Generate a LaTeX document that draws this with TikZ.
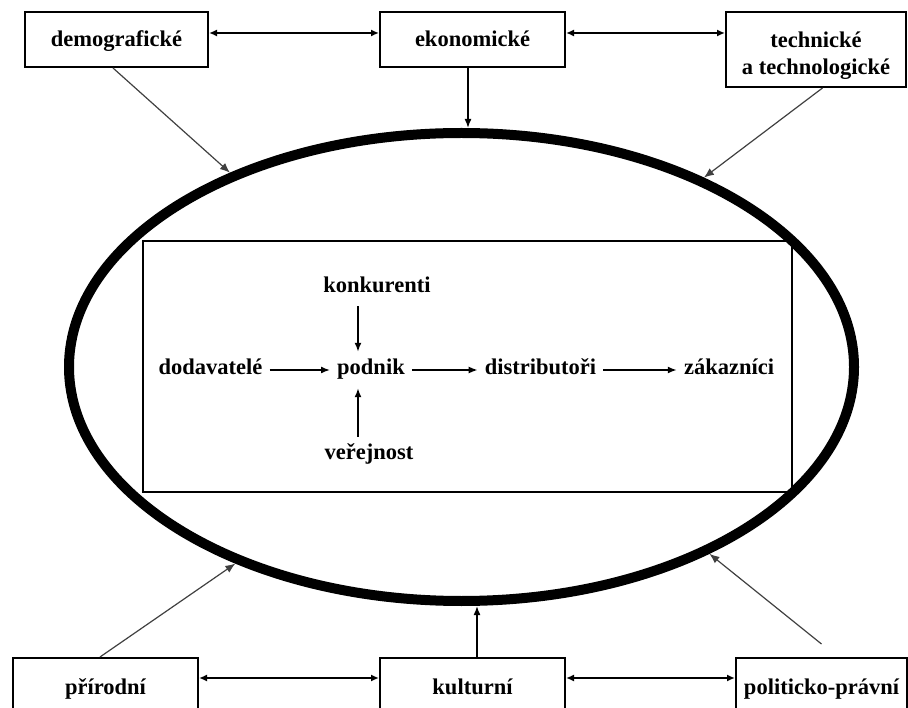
\documentclass[tikz,border=0pt]{standalone}
\usepackage{fontspec}
\setmainfont{Liberation Serif}
\usetikzlibrary{arrows.meta,shapes.geometric}
\begin{document}
\begin{tikzpicture}[x=1pt,y=-1pt,
  lbl/.style={font=\fontsize{22.5}{27}\selectfont\bfseries},
  envbox/.style={draw,line width=2pt,lbl,inner sep=0pt,align=center},
  topbox/.style={envbox,text height=21pt,text depth=6pt},
  lowbox/.style={envbox,minimum height=60pt,text height=18pt,text depth=6pt},
  word/.style={lbl,inner xsep=7pt,inner ysep=8pt,text height=15pt,text depth=5pt,anchor=base},
  arr/.style={line width=1.6pt,-{Latex[length=9pt,width=7pt]}},
  darr/.style={line width=1.6pt,{Latex[length=8pt,width=7pt]}-{Latex[length=8pt,width=7pt]}},
  infl/.style={line width=1.2pt,draw=black!75,-{Latex[length=10pt,width=8pt]}}]
\useasboundingbox (0,0) rectangle (908,708);
\clip (0,0) rectangle (908,708);

% the enterprise's environment
\node[draw,ellipse,line width=10pt,minimum width=785pt,minimum height=468pt,inner sep=0pt] (ell) at (461.5,367) {};
\node[draw,line width=2pt,minimum width=649pt,minimum height=251pt,inner sep=0pt] (scene) at (467.5,366.5) {};

% macro-environment factors
\node[topbox,minimum width=183pt,minimum height=55pt] (demo) at (116.5,39.5) {demografické};
\node[topbox,minimum width=185pt,minimum height=55pt] (ekon) at (472.5,39.5) {ekonomické};
\node[envbox,minimum width=180pt,minimum height=75pt] (tech) at (816,49.5) {\rule{0pt}{28pt}technické\\a technologické};
\node[lowbox,minimum width=185pt] (prir) at (105.5,688) {přírodní};
\node[lowbox,minimum width=185pt] (kult) at (472.5,688) {kulturní};
\node[lowbox,minimum width=171pt] (polit) at (821.5,688) {politicko-právní};

\draw[darr] ([yshift=6.5pt]demo.east) -- ([yshift=6.5pt]ekon.west);
\draw[darr] ([yshift=6.5pt]ekon.east) -- ([yshift=6.5pt]ekon.east -| tech.west);
\draw[darr] ([yshift=10pt]prir.east) -- ([yshift=10pt]kult.west);
\draw[darr] ([yshift=10pt]kult.east) -- ([yshift=10pt]polit.west);

\draw[arr] ([xshift=-4.5pt]ekon.south) -- ([xshift=-4.5pt]ekon.south |- ell.north);
\draw[arr] ([xshift=4.5pt]kult.north) -- ([xshift=4.5pt]kult.north |- ell.south);

\coordinate (politTail) at ([yshift=13pt]polit.north);
\draw[infl] ([xshift=-3.5pt]demo.south) -- (ell.140);
\draw[infl] ([xshift=6.5pt]tech.south) -- (ell.38);
\draw[infl] ([xshift=-5.5pt]prir.north) -- (ell.221);
\draw[infl] (politTail) -- (ell.323);

% micro-environment
\node[word] (konk) at (377,293) {konkurenti};
\node[word] (podnik) at (371,375) {podnik};
\node[word] (verej) at (369,460) {veřejnost};
\node[word] (dodav) at (210.5,375) {dodavatelé};
\node[word] (distr) at (540.5,375) {distributoři};
\node[word] (zak) at (729,375) {zákazníci};
\coordinate (col) at (358,0);

\draw[arr] (dodav.east) -- (podnik.west);
\draw[arr] (podnik.east) -- (distr.west);
\draw[arr] (distr.east) -- (zak.west);
\draw[arr] (konk.south -| col) -- (podnik.north -| col);
\draw[arr] (verej.north -| col) -- (podnik.south -| col);
\end{tikzpicture}
\end{document}
